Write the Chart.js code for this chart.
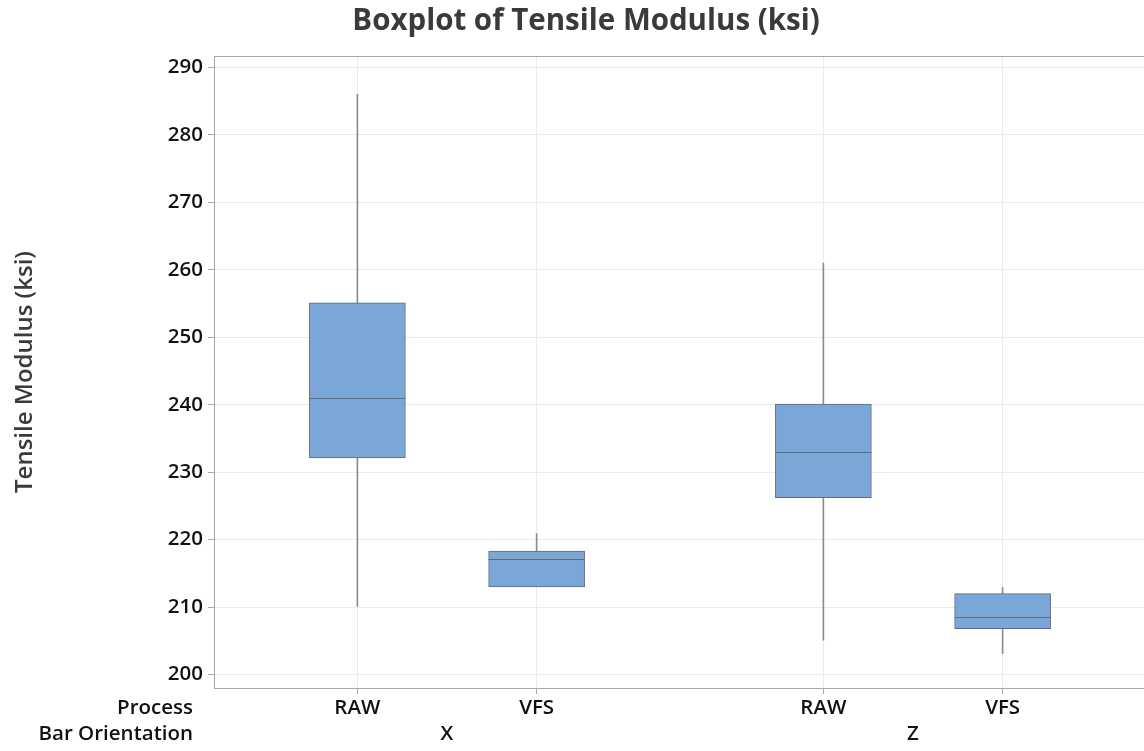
<!DOCTYPE html>
<html>
<head>
    <title>Boxplot of Tensile Modulus</title>
    <script src="https://cdn.jsdelivr.net/npm/chart.js"></script>
    <style>
        body { margin: 0; overflow: hidden; background: #fff; }
    </style>
</head>
<body>
    <div style="width:1150px; height:751px;">
        <canvas id="myChart" width="1150" height="751"></canvas>
    </div>
    <script>
        // box positions on the x axis (groups X and Z)
        const positions = [1, 2, 3.6, 4.6];
        const processLabels = ['RAW', 'VFS', 'RAW', 'VFS'];
        const groupPositions = [1.5, 4.1];
        const groupLabels = ['X', 'Z'];

        // five-number summaries
        const whiskerLow = [210.1, 213.0, 205.1, 203.1];
        const q1 = [232.1, 213.0, 226.2, 206.8];
        const median = [241.0, 217.1, 233.0, 208.5];
        const q3 = [255.1, 218.3, 240.1, 212.0];
        const whiskerHigh = [286.0, 220.9, 261.0, 212.9];

        const yTicks = [200, 210, 220, 230, 240, 250, 260, 270, 280, 290];

        const fontFamily = "'Open Sans', 'Noto Sans', sans-serif";

        const boxExtras = {
            id: 'boxExtras',
            beforeDatasetsDraw(chart) {
                const { ctx, chartArea } = chart;
                ctx.save();
                ctx.strokeStyle = '#a8a8a8';
                ctx.lineWidth = 1;
                ctx.beginPath();
                ctx.moveTo(chartArea.left, chartArea.top + 0.5);
                ctx.lineTo(chartArea.right, chartArea.top + 0.5);
                ctx.moveTo(chartArea.right - 0.5, chartArea.top);
                ctx.lineTo(chartArea.right - 0.5, chartArea.bottom);
                ctx.stroke();
                ctx.restore();
            },
            afterDatasetsDraw(chart) {
                const { ctx } = chart;
                const xs = chart.scales.x, ys = chart.scales.y;
                ctx.save();
                ctx.strokeStyle = '#5f6b7a';
                ctx.lineWidth = 1;
                median.forEach((m, i) => {
                    const cx = xs.getPixelForValue(positions[i]);
                    const py = Math.round(ys.getPixelForValue(m)) + 0.5;
                    ctx.beginPath();
                    ctx.moveTo(cx - 48, py);
                    ctx.lineTo(cx + 48, py);
                    ctx.stroke();
                });
                ctx.restore();
            },
            afterDraw(chart) {
                const { ctx } = chart;
                ctx.save();
                ctx.fillStyle = '#3a3a3a';
                ctx.font = "bold 29.5px " + fontFamily;
                ctx.textAlign = 'center';
                ctx.textBaseline = 'middle';
                ctx.fillText('Boxplot of Tensile Modulus (ksi)', 586, 22);

                ctx.fillStyle = '#111';
                ctx.font = "600 20.5px " + fontFamily;
                ctx.textAlign = 'right';
                ctx.fillText('Process', 193, chart.scales.x.top + 20);
                ctx.fillText('Bar Orientation', 193, chart.scales.x2.top + 14);
                ctx.restore();
            }
        };

        const ctx = document.getElementById('myChart').getContext('2d');

        new Chart(ctx, {
            type: 'bar',
            data: {
                datasets: [{
                    label: 'Box',
                    data: positions.map((x, i) => ({ x, y: [q1[i], q3[i]] })),
                    backgroundColor: '#7ba6d8',
                    borderColor: '#5f6b7a',
                    borderWidth: 1,
                    borderSkipped: false,
                    barThickness: 96,
                    grouped: false,
                    order: 1
                }, {
                    label: 'Whisker',
                    data: positions.map((x, i) => ({ x, y: [whiskerLow[i], whiskerHigh[i]] })),
                    backgroundColor: '#8c8c8c',
                    borderWidth: 0,
                    barThickness: 1,
                    grouped: false,
                    order: 2
                }]
            },
            options: {
                responsive: false,
                animation: false,
                layout: { padding: { left: 0, top: 56, right: 4, bottom: 0 } },
                plugins: {
                    legend: { display: false },
                    tooltip: { enabled: false },
                    title: { display: false }
                },
                scales: {
                    x: {
                        type: 'linear',
                        position: 'bottom',
                        weight: 0,
                        offset: false,
                        min: 0.2,
                        max: 5.4,
                        afterBuildTicks: scale => { scale.ticks = positions.map(v => ({ value: v })); },
                        afterFit: scale => { scale.height = 32; },
                        ticks: {
                            callback: (value, index) => processLabels[index],
                            color: '#111',
                            font: { family: fontFamily, size: 20.5, weight: '600' },
                            padding: 2,
                            maxRotation: 0,
                            autoSkip: false
                        },
                        grid: { offset: false, color: '#ebebeb', tickColor: '#a8a8a8', tickLength: 6 },
                        border: { color: '#a8a8a8' }
                    },
                    x2: {
                        type: 'linear',
                        position: 'bottom',
                        weight: 1,
                        offset: false,
                        min: 0.2,
                        max: 5.4,
                        afterBuildTicks: scale => { scale.ticks = groupPositions.map(v => ({ value: v })); },
                        afterFit: scale => { scale.height = 31; },
                        ticks: {
                            callback: (value, index) => groupLabels[index],
                            color: '#111',
                            font: { family: fontFamily, size: 20.5, weight: '600' },
                            padding: 2,
                            maxRotation: 0,
                            autoSkip: false
                        },
                        grid: { display: false, drawTicks: false, offset: false },
                        border: { display: false }
                    },
                    y: {
                        min: 198,
                        max: 291.7,
                        afterBuildTicks: scale => { scale.ticks = yTicks.map(v => ({ value: v })); },
                        afterFit: scale => { scale.width = 214; },
                        ticks: {
                            color: '#111',
                            font: { family: fontFamily, size: 20.5, weight: '600' },
                            padding: 5
                        },
                        grid: { color: '#ebebeb', tickColor: '#a8a8a8', tickLength: 6 },
                        border: { color: '#a8a8a8' },
                        title: {
                            display: true,
                            text: 'Tensile Modulus (ksi)',
                            color: '#3a3a3a',
                            font: { family: fontFamily, size: 24, weight: '600' },
                            padding: { top: 11, bottom: 0 }
                        }
                    }
                }
            },
            plugins: [boxExtras]
        });
    </script>
</body>
</html>
